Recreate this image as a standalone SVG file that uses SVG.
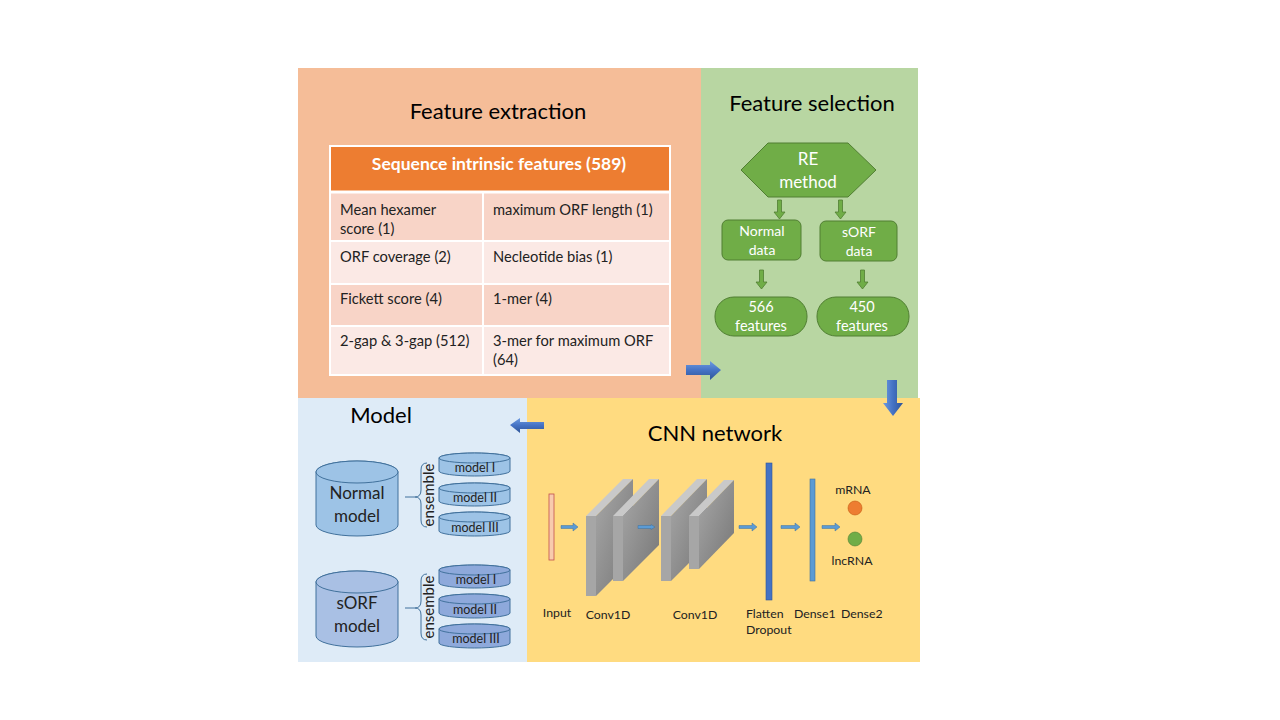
<svg xmlns="http://www.w3.org/2000/svg" width="1280" height="720" viewBox="0 0 1280 720">
<defs>
<linearGradient id="gv" x1="0" y1="0" x2="0" y2="1"><stop offset="0" stop-color="#6E9BE0"/><stop offset="0.5" stop-color="#4472C4"/><stop offset="1" stop-color="#2F5597"/></linearGradient>
<linearGradient id="gh" x1="0" y1="0" x2="1" y2="0"><stop offset="0" stop-color="#6E9BE0"/><stop offset="0.5" stop-color="#4472C4"/><stop offset="1" stop-color="#2F5597"/></linearGradient>
<linearGradient id="slab" x1="0" y1="0" x2="1" y2="1"><stop offset="0" stop-color="#A8A8A8"/><stop offset="1" stop-color="#767676"/></linearGradient>
</defs>
<style>
text{font-family:Lato,"Liberation Sans",sans-serif}
.title{font-size:22px;fill:#000}
.tc{font-size:14.7px;fill:#222}
.gw{fill:#fff;text-anchor:middle}
.gshape{fill:#70AD47;stroke:#507E32;stroke-width:1}
.garrow{fill:#70AD47;stroke:#507E32;stroke-width:0.8}
.bigc{stroke:#41719C;stroke-width:1}
.cl{font-size:12.3px;fill:#222}
.sa{fill:#5B9BD5;stroke:#41719C;stroke-width:0.5}
.front{fill:#A6A6A6}
.top{fill:#C9C9C9}
.side{fill:url(#slab)}
</style>
<rect width="1280" height="720" fill="#fff"/>
<g id="panel-feature-extraction">
<rect x="298" y="68" width="403" height="330" fill="#F5BD98"/>
<text class="title" x="498" y="119" text-anchor="middle">Feature extraction</text>
<g id="table">
<rect x="330" y="146" width="340" height="46" fill="#ED7D31"/>
<text x="499" y="170" text-anchor="middle" font-size="17.5" font-weight="bold" fill="#fff">Sequence intrinsic features (589)</text>
<rect x="330" y="192" width="340" height="49" fill="#F8D4C7"/>
<rect x="330" y="241" width="340" height="43" fill="#FBE9E5"/>
<rect x="330" y="284" width="340" height="42" fill="#F8D4C7"/>
<rect x="330" y="326" width="340" height="49" fill="#FBE9E5"/>
<g stroke="#fff" stroke-width="2" fill="none">
<rect x="330" y="146" width="340" height="229"/>
<line x1="330" y1="192" x2="670" y2="192" stroke-width="3"/>
<line x1="330" y1="241" x2="670" y2="241"/>
<line x1="330" y1="284" x2="670" y2="284"/>
<line x1="330" y1="326" x2="670" y2="326"/>
<line x1="483" y1="192" x2="483" y2="375"/>
</g>
<text class="tc" x="340" y="215">Mean hexamer</text>
<text class="tc" x="340" y="234">score (1)</text>
<text class="tc" x="493" y="215">maximum  ORF length (1)</text>
<text class="tc" x="340" y="262">ORF coverage (2)</text>
<text class="tc" x="493" y="262">Necleotide bias (1)</text>
<text class="tc" x="340" y="304">Fickett  score (4)</text>
<text class="tc" x="493" y="304">1-mer  (4)</text>
<text class="tc" x="340" y="346">2-gap &amp; 3-gap (512)</text>
<text class="tc" x="493" y="346">3-mer  for maximum  ORF</text>
<text class="tc" x="493" y="365">(64)</text>
</g>
</g>
<g id="panel-feature-selection">
<rect x="701" y="68" width="217" height="330" fill="#B8D6A2"/>
<text class="title" x="812" y="111" text-anchor="middle" font-size="21">Feature selection</text>
<g id="re-method">
<polygon class="gshape" points="741,170 768,143 848,143 876,170 848,197 768,197"/>
<text class="gw" x="808" y="165" font-size="17">RE</text>
<text class="gw" x="808" y="188" font-size="17">method</text>
</g>
<g id="normal-data">
<rect class="gshape" x="722" y="220" width="79" height="40" rx="6"/>
<text class="gw" x="762" y="236" font-size="14">Normal</text>
<text class="gw" x="762" y="255" font-size="14">data</text>
</g>
<g id="sorf-data">
<rect class="gshape" x="820" y="221" width="77" height="40" rx="6"/>
<text class="gw" x="859" y="237" font-size="14">sORF</text>
<text class="gw" x="859" y="256" font-size="14">data</text>
</g>
<g id="f566">
<rect class="gshape" x="715" y="297" width="92" height="39" rx="19"/>
<text class="gw" x="761" y="312" font-size="14.5">566</text>
<text class="gw" x="761" y="331" font-size="14.5">features</text>
</g>
<g id="f450">
<rect class="gshape" x="817" y="297" width="92" height="39" rx="19"/>
<text class="gw" x="862" y="312" font-size="14.5">450</text>
<text class="gw" x="862" y="331" font-size="14.5">features</text>
</g>
</g>
<g id="panel-model">
<rect x="298" y="398" width="229" height="264" fill="#DEEBF7"/>
<text class="title" x="381" y="423" text-anchor="middle">Model</text>
<g id="normal-model">
<path class="bigc" fill="#9DC3E6" d="M316,472 A41,11 0 0 1 398,472 V525 A41,11 0 0 1 316,525 Z"/>
<ellipse class="bigc" cx="357" cy="472" rx="41" ry="11" fill="#9DC3E6"/>
<text x="357" y="499" text-anchor="middle" font-size="17" fill="#222">Normal</text>
<text x="357" y="522" text-anchor="middle" font-size="17" fill="#222">model</text>
</g>
<g id="sorf-model">
<path class="bigc" fill="#A9C0E4" d="M316,582 A41,11 0 0 1 398,582 V636 A41,11 0 0 1 316,636 Z"/>
<ellipse class="bigc" cx="357" cy="582" rx="41" ry="11" fill="#A9C0E4"/>
<text x="357" y="609" text-anchor="middle" font-size="17" fill="#222">sORF</text>
<text x="357" y="632" text-anchor="middle" font-size="17" fill="#222">model</text>
</g>
<g id="normal-ensemble" font-size="12.5" fill="#222">
<path d="M405,497 H415 M427,463 Q421,463 421,470 V490 Q421,497 415,497 Q421,497 421,504 V520 Q421,527 427,527" fill="none" stroke="#41719C" stroke-width="1"/>
<text x="0" y="0" transform="translate(434,495) rotate(-90)" text-anchor="middle" font-size="15">ensemble</text>
<path class="bigc" fill="#9DC3E6" d="M439,458 A35.5,5 0 0 1 510,458 V471 A35.5,5 0 0 1 439,471 Z"/><ellipse class="bigc" cx="474.5" cy="458" rx="35.5" ry="5" fill="#9DC3E6"/>
<text x="475" y="472" text-anchor="middle">model I</text>
<path class="bigc" fill="#9DC3E6" d="M439,488 A35.5,5 0 0 1 510,488 V501 A35.5,5 0 0 1 439,501 Z"/><ellipse class="bigc" cx="474.5" cy="488" rx="35.5" ry="5" fill="#9DC3E6"/>
<text x="475" y="502" text-anchor="middle">model II</text>
<path class="bigc" fill="#9DC3E6" d="M439,517 A35.5,5 0 0 1 510,517 V531 A35.5,5 0 0 1 439,531 Z"/><ellipse class="bigc" cx="474.5" cy="517" rx="35.5" ry="5" fill="#9DC3E6"/>
<text x="475" y="532" text-anchor="middle">model III</text>
</g>
<g id="sorf-ensemble" font-size="12.5" fill="#222">
<path d="M405,608 H415 M427,574 Q421,574 421,581 V601 Q421,608 415,608 Q421,608 421,615 V633 Q421,640 427,640" fill="none" stroke="#41719C" stroke-width="1"/>
<text x="0" y="0" transform="translate(434,607) rotate(-90)" text-anchor="middle" font-size="15">ensemble</text>
<path class="bigc" fill="#8EA9DB" d="M439,570 A35.5,5 0 0 1 510,570 V583 A35.5,5 0 0 1 439,583 Z"/><ellipse class="bigc" cx="474.5" cy="570" rx="35.5" ry="5" fill="#8EA9DB"/>
<text x="476" y="584" text-anchor="middle">model I</text>
<path class="bigc" fill="#8EA9DB" d="M439,599 A35.5,5 0 0 1 510,599 V613 A35.5,5 0 0 1 439,613 Z"/><ellipse class="bigc" cx="474.5" cy="599" rx="35.5" ry="5" fill="#8EA9DB"/>
<text x="475" y="614" text-anchor="middle">model II</text>
<path class="bigc" fill="#8EA9DB" d="M439,629 A35.5,5 0 0 1 510,629 V643 A35.5,5 0 0 1 439,643 Z"/><ellipse class="bigc" cx="474.5" cy="629" rx="35.5" ry="5" fill="#8EA9DB"/>
<text x="476" y="643" text-anchor="middle">model III</text>
</g>
</g>
<g id="panel-cnn">
<rect x="527" y="398" width="393" height="264" fill="#FFDB80"/>
<text class="title" x="715" y="441" text-anchor="middle">CNN network</text>
<g id="input"><rect x="549" y="494" width="5" height="66" fill="#F8CBAD" stroke="#C0504D" stroke-width="0.8"/></g>
<g id="conv1a"><polygon class="top" points="586,516 623,479 633,479 596,516"/><polygon class="side" points="596,516 633,479 633,559 596,596"/><rect class="front" x="586" y="516" width="10" height="80"/></g>
<g id="conv1b"><polygon class="top" points="613,516 649,479 659,479 623,516"/><polygon class="side" points="623,516 659,479 659,545 623,581"/><rect class="front" x="613" y="516" width="10" height="65"/></g>
<g id="conv2a"><polygon class="top" points="661,516 697,479 707,479 671,516"/><polygon class="side" points="671,516 707,479 707,545 671,581"/><rect class="front" x="661" y="516" width="10" height="65"/></g>
<g id="conv2b"><polygon class="top" points="689,516 724,480 734,480 699,516"/><polygon class="side" points="699,516 734,480 734,533 699,569"/><rect class="front" x="689" y="516" width="10" height="53"/></g>
<g id="flatten"><rect x="766" y="463" width="6" height="137" fill="#4472C4" stroke="#2F5597" stroke-width="0.6"/></g>
<g id="dense1"><rect x="810" y="479" width="5" height="102" fill="#5B9BD5" stroke="#41719C" stroke-width="0.6"/></g>
<g id="outputs"><circle cx="855" cy="508" r="7" fill="#ED7D31" stroke="#C55A11" stroke-width="0.6"/><circle cx="855" cy="539" r="7" fill="#70AD47" stroke="#507E32" stroke-width="0.6"/></g>
<text class="cl" x="853" y="494" text-anchor="middle">mRNA</text>
<text class="cl" x="852" y="565" text-anchor="middle">lncRNA</text>
<text class="cl" x="557" y="617" text-anchor="middle">Input</text>
<text class="cl" x="608" y="619" text-anchor="middle">Conv1D</text>
<text class="cl" x="695" y="619" text-anchor="middle">Conv1D</text>
<text class="cl" x="746" y="618">Flatten</text>
<text class="cl" x="746" y="634">Dropout</text>
<text class="cl" x="794" y="618">Dense1</text>
<text class="cl" x="841" y="618">Dense2</text>
</g>
<g id="connectors">
<polygon fill="url(#gv)" points="686,365 710,365 710,361 721,370 710,380 710,375 686,375"/>
<polygon fill="url(#gh)" points="887,380 897,380 897,403 903,403 893,416 883,403 887,403"/>
<polygon fill="url(#gv)" points="544,422 520,422 520,418 510,425 520,433 520,429 544,429"/>
<polygon class="garrow" points="777.5,200 781.5,200 781.5,212 785,212 779.5,219 774,212 777.5,212"/>
<polygon class="garrow" points="838.5,200 842.5,200 842.5,212 846,212 840.5,219 835,212 838.5,212"/>
<polygon class="garrow" points="759.5,270 763.5,270 763.5,282 767,282 761.5,289 756,282 759.5,282"/>
<polygon class="garrow" points="860.5,270 864.5,270 864.5,282 868,282 862.5,289 857,282 860.5,282"/>
<polygon class="sa" points="561,525.5 573,525.5 573,523 578,527 573,531 573,528.5 561,528.5"/>
<polygon class="sa" points="638,525.5 651,525.5 651,524.5 655,527 651,529.5 651,528.5 638,528.5"/>
<polygon class="sa" points="739,525.5 752,525.5 752,523 757,527 752,531 752,528.5 739,528.5"/>
<polygon class="sa" points="781,525.5 795,525.5 795,523 800,527 795,531 795,528.5 781,528.5"/>
<polygon class="sa" points="822,525.5 835,525.5 835,523 840,527 835,531 835,528.5 822,528.5"/>
</g>
</svg>
